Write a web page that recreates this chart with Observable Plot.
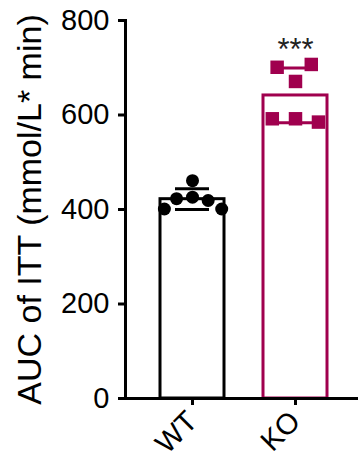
<!DOCTYPE html>
<html><head><meta charset="utf-8">
<script src="https://cdn.jsdelivr.net/npm/d3@7"></script>
<script src="https://cdn.jsdelivr.net/npm/@observablehq/plot@0.6"></script>
<style>body{margin:0;background:#fff} svg{display:block}</style>
</head><body><div id="chart"></div>
<script>
const groups = ["WT", "KO"];
const wtValues = [461, 426, 423, 419, 401, 401];
const koValues = [592, 592, 585, 671, 701, 707];
const stars = ["", "***"];
const yTicks = [0, 200, 400, 600, 800];
const colors = ["#000000", "#A0004E"];
const yLabel = "AUC of ITT (mmol/L* min)";
const font = "'Liberation Sans', Arial, Helvetica, sans-serif";

const valuesByGroup = [wtValues, koValues];
const points = groups.flatMap((g, i) => valuesByGroup[i].map(v => ({group: g, value: v})));
const summary = groups.map((g, i) => {
  const vals = valuesByGroup[i];
  const m = d3.mean(vals), s = d3.deviation(vals);
  return {group: g, mean: m, lo: m - s, hi: m + s, max: d3.max(vals), star: stars[i]};
});

const chart = Plot.plot({
  width: 358, height: 471,
  marginLeft: 124, marginRight: -5, marginTop: 20, marginBottom: 73,
  style: {fontFamily: font, fontSize: "29px", color: "#000", background: "white", overflow: "visible"},
  fx: {domain: groups, paddingInner: 0.375, paddingOuter: 0.337, label: null},
  y: {domain: [0, 800]},
  color: {domain: groups, range: colors},
  marks: [
    Plot.barY(summary, {fx: "group", y: "mean", fill: "white", stroke: "group", strokeWidth: 3}),
    Plot.ruleX(summary, {fx: "group", y1: "lo", y2: "hi", stroke: "group", strokeWidth: 3}),
    Plot.ruleY(summary, {fx: "group", y: "lo", stroke: "group", strokeWidth: 3, insetLeft: 15, insetRight: 15}),
    Plot.ruleY(summary, {fx: "group", y: "hi", stroke: "group", strokeWidth: 3, insetLeft: 15, insetRight: 15}),
    Plot.dot(points.filter(d => d.group === "WT"), Plot.dodgeX({anchor: "middle", padding: 3}, {fx: "group", y: "value", r: 6.5, fill: "group", symbol: "circle"})),
    Plot.dot(points.filter(d => d.group === "KO"), Plot.dodgeX({anchor: "middle", padding: 8}, {fx: "group", y: "value", r: 7.6, fill: "group", symbol: "square"})),
    Plot.text(summary, {fx: "group", y: "max", text: "star", dy: -14, fontSize: 31, fill: "#222", ariaLabel: "stars"}),
    Plot.frame({anchor: "left", facetAnchor: "left", dx: -35, strokeWidth: 3}),
    Plot.frame({anchor: "bottom", facet: "super", insetLeft: -35, insetRight: -40, strokeWidth: 3}),
    Plot.axisY({ticks: yTicks, dx: -35, tickSize: 7, strokeWidth: 3, tickPadding: 9, fontSize: 29,
      label: yLabel, labelAnchor: "center", labelOffset: 144, labelArrow: false}),
    Plot.axisFx({anchor: "bottom", tickSize: 7, strokeWidth: 3, tickRotate: -45, tickPadding: 11, fontSize: 29, label: null})
  ]
});
d3.select(chart).selectAll("g[aria-label='stars'] text").attr("letter-spacing", "5px");
d3.select(chart).selectAll("g[aria-label='y-axis label'] text, text[aria-label='y-axis label']").style("font-size", "34px");
document.getElementById("chart").appendChild(chart);
</script></body></html>
